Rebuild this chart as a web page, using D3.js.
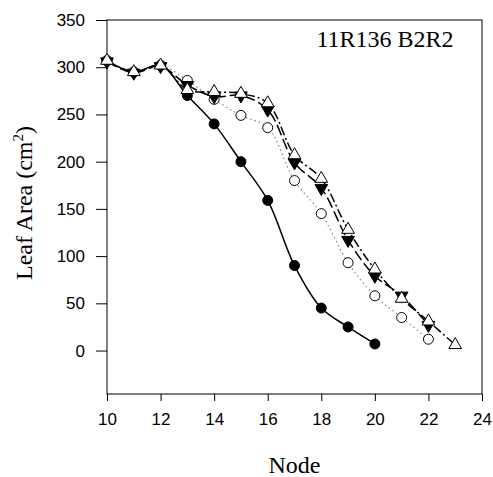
<!DOCTYPE html>
<html>
<head>
<meta charset="utf-8">
<script src="https://cdn.jsdelivr.net/npm/d3@7"></script>
<style>
  body { margin: 0; background: #fff; }
  .axis text { font-family: "Liberation Sans", Arial, sans-serif; font-size: 17px; fill: #000; }
  .axis path, .axis line { stroke: #000; stroke-width: 1; }
  .title { font-family: "Liberation Serif", "Times New Roman", serif; font-size: 24px; fill: #000; }
</style>
</head>
<body>
<script>
var width = 493, height = 477;
var margin = {top: 20, right: 11, bottom: 83, left: 107};

// data
var nodesA = [10, 11, 12, 13, 14, 15, 16, 17, 18, 19, 20];
var filledCircle = [307, 295, 302, 270, 240, 200, 159, 90, 45, 25, 7];

var nodesB = [10, 11, 12, 13, 14, 15, 16, 17, 18, 19, 20, 21, 22];
var openCircle = [307, 295, 302, 286, 266, 249, 236, 180, 145, 93, 58, 35, 12];

var nodesC = [10, 11, 12, 13, 14, 15, 16, 17, 18, 19, 20, 21, 22];
var downTri = [306, 294, 301, 281, 269, 270, 255, 199, 172, 117, 79, 58, 27];

var nodesD = [10, 11, 12, 13, 14, 15, 16, 17, 18, 19, 20, 21, 22, 23];
var upTri = [307, 295, 302, 276, 274, 272, 262, 207, 182, 128, 86, 55, 31, 6];

var xTicks = [10, 12, 14, 16, 18, 20, 22, 24];
var yTicks = [0, 50, 100, 150, 200, 250, 300, 350];

var svg = d3.select("body").append("svg")
    .attr("width", width)
    .attr("height", height);

var x = d3.scaleLinear().domain([10, 24]).range([margin.left, width - margin.right]);
var y = d3.scaleLinear().domain([-46, 350]).range([height - margin.bottom, margin.top]);

// frame
svg.append("rect")
    .attr("x", x(10)).attr("y", y(350))
    .attr("width", x(24) - x(10)).attr("height", y(-46) - y(350))
    .attr("fill", "none").attr("stroke", "#000").attr("stroke-width", 1);

svg.append("g").attr("class", "axis")
    .attr("transform", "translate(0," + y(-46) + ")")
    .call(d3.axisBottom(x).tickValues(xTicks).tickSize(7).tickPadding(12))
    .call(function(g) { g.select(".domain").remove(); });

svg.append("g").attr("class", "axis")
    .attr("transform", "translate(" + x(10) + ",0)")
    .call(d3.axisLeft(y).tickValues(yTicks).tickSize(11).tickPadding(11))
    .call(function(g) { g.select(".domain").remove(); });

var series = [
  {xs: nodesB, ys: openCircle, dash: "1.5,3", color: "#888", width: 1.2, mark: "openCircle"},
  {xs: nodesC, ys: downTri, dash: "11,4", color: "#000", width: 1.5, mark: "downTri"},
  {xs: nodesD, ys: upTri, dash: "9,3,2,3", color: "#000", width: 1.5, mark: "upTri"},
  {xs: nodesA, ys: filledCircle, dash: null, color: "#000", width: 1.5, mark: "filledCircle"}
];

var line = d3.line()
    .x(function(d) { return x(d[0]); })
    .y(function(d) { return y(d[1]); })
    .curve(d3.curveCatmullRom.alpha(0.5));

series.forEach(function(s) {
  var pts = s.xs.map(function(v, i) { return [v, s.ys[i]]; });
  svg.append("path")
      .datum(pts)
      .attr("d", line)
      .attr("fill", "none")
      .attr("stroke", s.color)
      .attr("stroke-width", s.width)
      .attr("stroke-dasharray", s.dash);
});

function drawMarks(s) {
  var pts = s.xs.map(function(v, i) { return [v, s.ys[i]]; });
  var g = svg.append("g");
  if (s.mark === "filledCircle" || s.mark === "openCircle") {
    g.selectAll("circle").data(pts).enter().append("circle")
        .attr("cx", function(d) { return x(d[0]); })
        .attr("cy", function(d) { return y(d[1]); })
        .attr("r", 5)
        .attr("fill", s.mark === "filledCircle" ? "#000" : "#fff")
        .attr("stroke", "#000").attr("stroke-width", 1);
  } else {
    var sym = d3.symbol().type(d3.symbolTriangle).size(70);
    g.selectAll("path").data(pts).enter().append("path")
        .attr("d", sym)
        .attr("transform", function(d) {
          return "translate(" + x(d[0]) + "," + y(d[1]) + ")" + (s.mark === "downTri" ? " rotate(180)" : "");
        })
        .attr("fill", s.mark === "downTri" ? "#000" : "#fff")
        .attr("stroke", "#000").attr("stroke-width", 1);
  }
}
drawMarks(series[3]);
drawMarks(series[0]);
drawMarks(series[1]);
drawMarks(series[2]);

svg.append("text").attr("class", "title")
    .attr("x", 385).attr("y", 47)
    .attr("text-anchor", "middle")
    .text("11R136 B2R2");

svg.append("text").attr("class", "title")
    .attr("x", (x(10) + x(24)) / 2).attr("y", 473)
    .attr("text-anchor", "middle")
    .text("Node");

var yl = svg.append("text").attr("class", "title")
    .attr("transform", "translate(32,203) rotate(-90)")
    .attr("text-anchor", "middle");
yl.append("tspan").text("Leaf Area (cm");
yl.append("tspan").attr("dy", -9).style("font-size", "15px").text("2");
yl.append("tspan").attr("dy", 9).text(")");
</script>
</body>
</html>
